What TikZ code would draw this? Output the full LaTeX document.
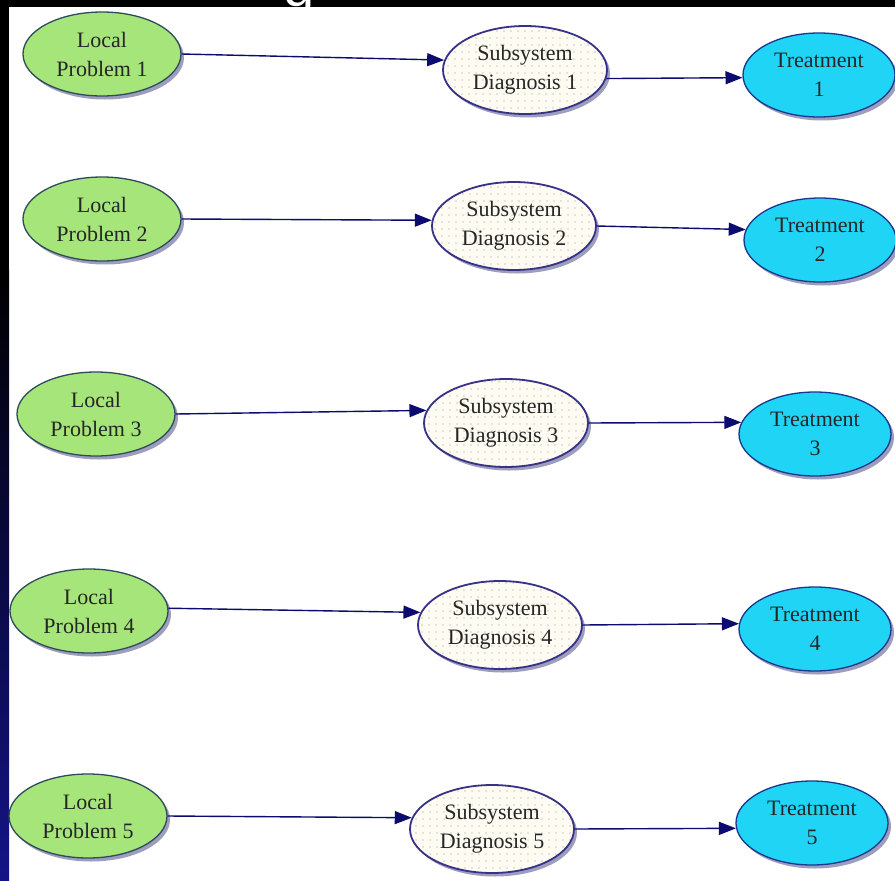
\documentclass[tikz,border=0pt]{standalone}
\usepackage{fontspec}
\setmainfont{Liberation Serif}
\newfontfamily\titlefont{Liberation Sans}
\usetikzlibrary{shapes.geometric,arrows.meta,shadows,patterns.meta}
\definecolor{localfill}{RGB}{166,229,122}
\definecolor{localdraw}{RGB}{45,75,90}
\definecolor{subfill}{RGB}{253,251,242}
\definecolor{subdraw}{RGB}{55,50,135}
\definecolor{treatfill}{RGB}{32,212,246}
\definecolor{treatdraw}{RGB}{25,55,140}
\definecolor{arrowcol}{RGB}{12,12,112}
\definecolor{shadowcol}{RGB}{105,105,155}
\definecolor{navybar}{RGB}{20,20,135}
\definecolor{dotcol}{RGB}{150,150,140}
\begin{document}
\begin{tikzpicture}[x=1pt,y=-1pt,
  base/.style={ellipse, inner sep=0pt, align=center,
    font=\fontsize{22}{29}\selectfont, text=black!85, line width=1.3pt,
    drop shadow={shadow xshift=3pt, shadow yshift=-3.5pt, fill=shadowcol, opacity=0.65}},
  localnode/.style={base, fill=localfill, draw=localdraw,
    minimum width=158pt, minimum height=84pt},
  subnode/.style={base, draw=subdraw, line width=1.8pt,
    minimum width=164pt, minimum height=88pt,
    preaction={fill=subfill},
    pattern={Dots[distance=6.5pt,radius=0.7pt]}, pattern color=dotcol},
  treatnode/.style={base, fill=treatfill, draw=treatdraw,
    minimum width=152pt, minimum height=84pt},
  conn/.style={draw=arrowcol, line width=1.4pt,
    -{Triangle[length=17pt,width=13pt]}}
]
\useasboundingbox (0,0) rectangle (895,881);
% background
\fill[white] (0,0) rectangle (895,881);
\fill[black] (0,0) rectangle (895,7);
\fill[black] (0,0) rectangle (9,270);
\shade[top color=black, bottom color=navybar] (0,270) rectangle (9,881);
\begin{scope}
  \clip (0,0) rectangle (895,7);
  \node[anchor=base, inner sep=0pt, text=white,
    font=\titlefont\fontsize{56}{56}\selectfont] (title) at (299,6.5) {g};
\end{scope}

% row 1
\node[localnode] (L1) at (102,54)  {Local\\Problem 1};
\node[subnode]   (S1) at (525,70)  {Subsystem\\Diagnosis 1};
\node[treatnode] (T1) at (819,75)  {Treatment\\1};
% row 2
\node[localnode] (L2) at (102,219) {Local\\Problem 2};
\node[subnode]   (S2) at (514,226) {Subsystem\\Diagnosis 2};
\node[treatnode] (T2) at (820,240) {Treatment\\2};
% row 3
\node[localnode] (L3) at (96,414)  {Local\\Problem 3};
\node[subnode]   (S3) at (506,423) {Subsystem\\Diagnosis 3};
\node[treatnode] (T3) at (815,434) {Treatment\\3};
% row 4
\node[localnode] (L4) at (89,611)  {Local\\Problem 4};
\node[subnode]   (S4) at (500,625) {Subsystem\\Diagnosis 4};
\node[treatnode] (T4) at (815,629) {Treatment\\4};
% row 5
\node[localnode] (L5) at (88,816)  {Local\\Problem 5};
\node[subnode]   (S5) at (492,829) {Subsystem\\Diagnosis 5};
\node[treatnode] (T5) at (812,823) {Treatment\\5};

% connectors
\draw[conn] (L1.east) -- (S1.173);
\draw[conn] (S1.354)  -- (T1.182);
\draw[conn] (L2.east) -- (S2.176);
\draw[conn] (S2.east) -- (T2.172);
\draw[conn] (L3.east) -- (S3.171);
\draw[conn] (S3.east) -- (T3.171);
\draw[conn] (L4.2)    -- (S4.171);
\draw[conn] (S4.east) -- (T4.176);
\draw[conn] (L5.east) -- (S5.172);
\draw[conn] (S5.east) -- (T5.184);
\end{tikzpicture}
\end{document}
